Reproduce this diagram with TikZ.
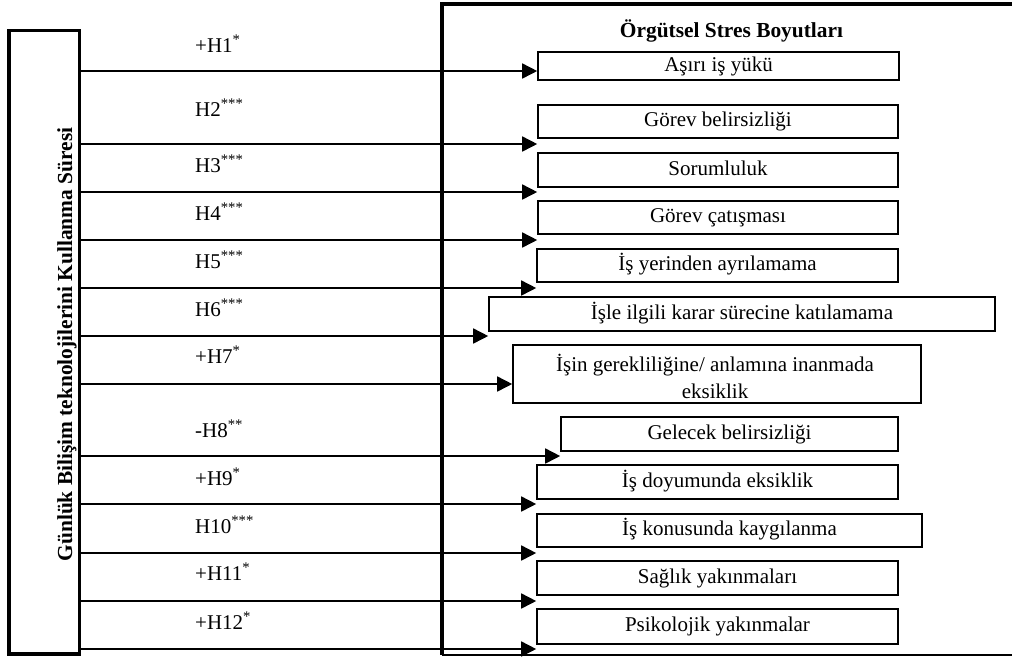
\documentclass[tikz,border=0pt]{standalone}
\usepackage{fontspec}
\setmainfont{Liberation Serif}
\usetikzlibrary{arrows.meta}
\begin{document}
\begin{tikzpicture}[x=1pt,y=-1pt,
  every node/.style={font=\fontsize{21}{27}\selectfont},
  frame/.style={line width=3.5pt},
  dimbox/.style={draw, line width=1.6pt, inner sep=0pt, align=center,
                 text height=14pt, text depth=4pt},
  emptybox/.style={draw, line width=1.6pt, inner sep=0pt},
  arr/.style={line width=1.6pt, -{Triangle[length=15pt,width=15pt]}},
  hyp/.style={anchor=base west, inner sep=0pt},
]
\useasboundingbox (0,0) rectangle (1012,657);
\clip (0,0) rectangle (1012,657);

% left box
\node[draw, frame, inner sep=0pt, minimum width=70.5pt, minimum height=623.5pt] (lb) at (44.25,342.25) {};
\node[rotate=90, anchor=base, inner sep=0pt, font=\fontsize{21.4}{25}\selectfont\bfseries] (lbtext) at (72,344.5)
  {Günlük Bilişim teknolojilerini Kullanma Süresi};

% right frame
\coordinate (fr1) at (1020,4);
\coordinate (fr2) at (442,4);
\coordinate (fr3) at (442,655);
\coordinate (fr4) at (1020,655);
\draw[frame] (fr1) -- (fr2) -- (fr3);
\draw[line width=1.6pt] (fr3) -- (fr4);

\node[anchor=base, inner sep=0pt, font=\fontsize{21.4}{25}\selectfont\bfseries] (title) at (731.5,37) {Örgütsel Stres Boyutları};

% dimension boxes
\node[dimbox, minimum width=361pt, minimum height=28pt] (b1) at (718.5,66) {Aşırı iş yükü};
\node[dimbox, minimum width=360pt, minimum height=33pt] (b2) at (718,121.5) {Görev belirsizliği};
\node[dimbox, minimum width=360pt, minimum height=34pt] (b3) at (718,170) {Sorumluluk};
\node[dimbox, minimum width=360pt, minimum height=33pt] (b4) at (718,217.5) {Görev çatışması};
\node[dimbox, minimum width=361pt, minimum height=33pt] (b5) at (717.5,265.5) {İş yerinden ayrılamama};
\node[dimbox, minimum width=506pt, minimum height=34pt] (b6) at (742,314) {İşle ilgili karar sürecine katılamama};
\node[emptybox, minimum width=408pt, minimum height=58pt] (b7) at (717,374) {};
\node[align=center, inner sep=0pt] (b7text) at (715,376) {İşin gerekliliğine/ anlamına inanmada\\eksiklik};
\node[dimbox, minimum width=337pt, minimum height=34pt] (b8) at (729.5,434) {Gelecek belirsizliği};
\node[dimbox, minimum width=361pt, minimum height=34pt] (b9) at (717.5,482) {İş doyumunda eksiklik};
\node[dimbox, minimum width=385pt, minimum height=33pt] (b10) at (729.5,530.5) {İş konusunda kaygılanma};
\node[dimbox, minimum width=361pt, minimum height=34pt] (b11) at (717.5,578) {Sağlık yakınmaları};
\node[dimbox, minimum width=361pt, minimum height=35pt] (b12) at (717.5,626.5) {Psikolojik yakınmalar};

% hypothesis labels
\node[hyp] (h1) at (195,52) {+H1\textsuperscript{*}};
\node[hyp] (h2) at (195,116) {H2\textsuperscript{***}};
\node[hyp] (h3) at (195,172) {H3\textsuperscript{***}};
\node[hyp] (h4) at (195,220) {H4\textsuperscript{***}};
\node[hyp] (h5) at (195,268) {H5\textsuperscript{***}};
\node[hyp] (h6) at (195,316) {H6\textsuperscript{***}};
\node[hyp] (h7) at (195,363) {+H7\textsuperscript{*}};
\node[hyp] (h8) at (195,437) {-H8\textsuperscript{**}};
\node[hyp] (h9) at (195,485) {+H9\textsuperscript{*}};
\node[hyp] (h10) at (195,533) {H10\textsuperscript{***}};
\node[hyp] (h11) at (195,580) {+H11\textsuperscript{*}};
\node[hyp] (h12) at (195,629) {+H12\textsuperscript{*}};

% arrow rows
\foreach \i/\y in {1/71,2/144,3/192,4/240,5/288,6/336,7/384,8/456,9/504,10/553,11/601,12/649}{
  \coordinate (s\i) at (0,\y);
  \draw[arr] (lb.east |- s\i) -- (b\i.west |- s\i);
}
\end{tikzpicture}
\end{document}
